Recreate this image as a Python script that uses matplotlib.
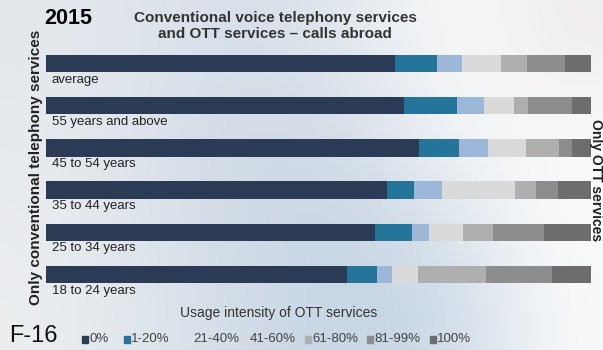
import numpy as np
import matplotlib.pyplot as plt
from matplotlib.patches import Rectangle

plt.rcParams['font.family'] = ['Liberation Sans', 'DejaVu Sans']

# age groups, top to bottom
groups = ['average', '55 years and above', '45 to 54 years',
          '35 to 44 years', '25 to 34 years', '18 to 24 years']
# share of calls abroad made via OTT services (%)
intensity = ['0%', '1-20%', '21-40%', '41-60%', '61-80%', '81-99%', '100%']
share_0 = [64.1, 65.6, 68.5, 62.5, 60.3, 55.3]
share_1_20 = [7.7, 9.9, 7.3, 5.1, 6.8, 5.5]
share_21_40 = [4.6, 4.8, 5.3, 5.1, 3.1, 2.7]
share_41_60 = [7.0, 5.5, 7.0, 13.4, 6.4, 4.8]
share_61_80 = [4.9, 2.7, 6.0, 3.8, 5.5, 12.5]
share_81_99 = [7.0, 8.1, 2.4, 4.0, 9.3, 12.1]
share_100 = [4.7, 3.4, 3.5, 6.1, 8.6, 7.1]

colors = ['#2b3a55', '#25759b', '#9db7d9', '#dadada', '#afafaf', '#8d8d8d', '#6d6d6d']
series = [share_0, share_1_20, share_21_40, share_41_60, share_61_80, share_81_99, share_100]

fig = plt.figure(figsize=(6.03, 3.5), dpi=100)

# soft background wash
bg = fig.add_axes([0, 0, 1, 1], zorder=-10)
grid = np.array([
    [[228, 232, 236], [222, 228, 236], [214, 222, 232], [226, 232, 238], [250, 250, 250], [240, 236, 240]],
    [[232, 235, 238], [218, 226, 235], [208, 218, 230], [214, 222, 232], [245, 246, 247], [250, 250, 250]],
    [[234, 236, 239], [220, 227, 235], [206, 217, 229], [200, 214, 228], [222, 230, 238], [252, 252, 252]],
    [[236, 238, 240], [222, 229, 236], [210, 220, 231], [196, 212, 228], [206, 218, 232], [248, 249, 250]],
]) / 255.0
bg.imshow(grid, aspect='auto', interpolation='bicubic', extent=[0, 1, 0, 1])
bg.set_xlim(0, 1)
bg.set_ylim(0, 1)
bg.axis('off')

ax = fig.add_axes([46 / 603, 1 - 295.6 / 350, 545 / 603, 253.2 / 350])
ax.patch.set_alpha(0)
y = np.arange(len(groups))
left = np.zeros(len(groups))
for vals, c in zip(series, colors):
    ax.barh(y, vals, left=left, height=0.41, color=c, linewidth=0)
    left += np.array(vals)

for i, g in enumerate(groups):
    ax.text(1.1, i + 0.38, g, fontsize=9.5, color='#222222', va='center', ha='left')

ax.set_xlim(0, 100)
ax.set_ylim(5.5, -0.5)
ax.axis('off')

fig.text(44 / 603, 1 - 19 / 350, '2015', fontsize=15.5, fontweight='bold', va='center', ha='left')
fig.text(275 / 603, 1 - 26 / 350,
         'Conventional voice telephony services\nand OTT services \u2013 calls abroad',
         fontsize=11, fontweight='bold', color='#333333', ha='center', va='center',
         linespacing=1.1)
fig.text(36 / 603, 1 - 167 / 350, 'Only conventional telephony services', rotation=90,
         fontsize=11, fontweight='bold', color='#222222', ha='center', va='center')
fig.text(596 / 603, 1 - 180 / 350, 'Only OTT services', rotation=-90,
         fontsize=10, fontweight='bold', color='#222222', ha='center', va='center')
fig.text(279 / 603, 1 - 313 / 350, 'Usage intensity of OTT services',
         fontsize=10, color='#333333', ha='center', va='center')
fig.text(9 / 603, 1 - 336 / 350, 'F-16', fontsize=17, color='#111111', ha='left', va='center')

# legend row
leg_x = [82, 124, 186, 243, 305, 367, 430]
for lx, lab, c in zip(leg_x, intensity, colors):
    if lab != '21-40%':
        fig.patches.append(Rectangle((lx / 603, 1 - 343 / 350), 6 / 603, 7 / 350,
                                     transform=fig.transFigure, color=c, figure=fig))
    fig.text((lx + 7) / 603, 1 - 339.5 / 350, lab, fontsize=9.5, color='#444444',
             ha='left', va='center')

fig.savefig('out.png', dpi=100)
